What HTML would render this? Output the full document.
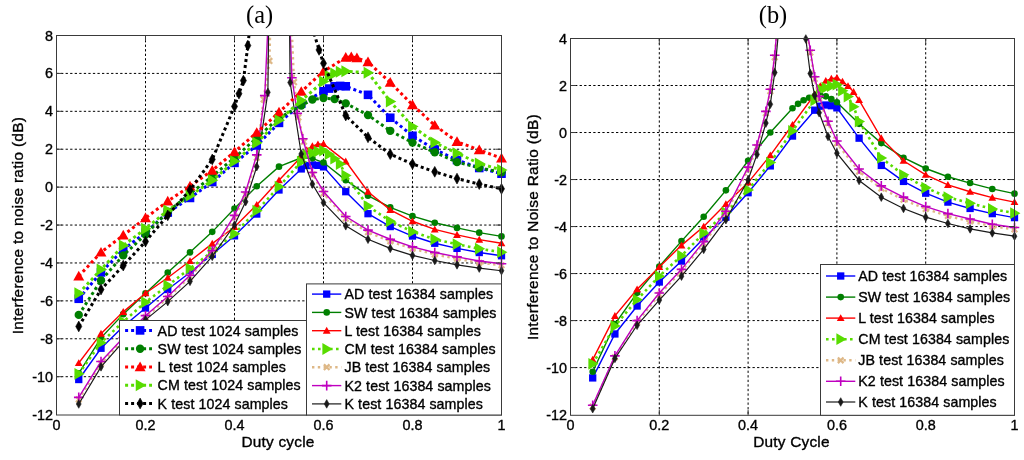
<!DOCTYPE html>
<html><head><meta charset="utf-8"><title>Figure</title>
<style>html,body{margin:0;padding:0;background:#fff;}body{width:1024px;height:460px;overflow:hidden;font-family:"Liberation Sans",sans-serif;}svg{display:block;filter:blur(0.25px);}</style>
</head><body>
<svg width="1024" height="460" viewBox="0 0 1024 460" font-family="'Liberation Sans', sans-serif" fill="#000">
<style>text{stroke:#000;stroke-width:0.35px;}</style>
<defs><clipPath id="clip0"><rect x="56.5" y="35.5" width="445" height="379.1"/></clipPath><clipPath id="clip1"><rect x="570.5" y="38.5" width="444" height="376.1"/></clipPath></defs>
<rect width="1024" height="460" fill="#fff"/>
<g id="pa">
<path d="M145.5 35.5V415M234.5 35.5V415M323.5 35.5V415M412.5 35.5V415M56.5 376.69H501.5M56.5 338.78H501.5M56.5 300.87H501.5M56.5 262.96H501.5M56.5 225.05H501.5M56.5 187.14H501.5M56.5 149.23H501.5M56.5 111.32H501.5M56.5 73.41H501.5" stroke="#000" stroke-width="1" stroke-dasharray="2.3 2.25" fill="none"/>
<path d="M78.75 379.53 L101 348.26 L123.25 326.46 L145.5 308.07 L167.75 289.5 L190 272.44 L212.25 254.43 L234.5 235.85 L256.75 214.06 L279 189.98 L301.25 168.94 L306.81 165.53 L312.38 164.96 L317.94 165.34 L323.5 166.86 L345.75 191.69 L368 213.68 L390.25 226.57 L412.5 236.04 L434.75 243.25 L457 248.36 L479.25 252.53 L501.5 255.76" fill="none" stroke="#0000ff" stroke-width="1.4" clip-path="url(#clip0)"/>
<rect x="75.1" y="375.88" width="7.3" height="7.3" fill="#0000ff"/>
<rect x="97.35" y="344.61" width="7.3" height="7.3" fill="#0000ff"/>
<rect x="119.6" y="322.81" width="7.3" height="7.3" fill="#0000ff"/>
<rect x="141.85" y="304.42" width="7.3" height="7.3" fill="#0000ff"/>
<rect x="164.1" y="285.85" width="7.3" height="7.3" fill="#0000ff"/>
<rect x="186.35" y="268.79" width="7.3" height="7.3" fill="#0000ff"/>
<rect x="208.6" y="250.78" width="7.3" height="7.3" fill="#0000ff"/>
<rect x="230.85" y="232.2" width="7.3" height="7.3" fill="#0000ff"/>
<rect x="253.1" y="210.41" width="7.3" height="7.3" fill="#0000ff"/>
<rect x="275.35" y="186.33" width="7.3" height="7.3" fill="#0000ff"/>
<rect x="297.6" y="165.29" width="7.3" height="7.3" fill="#0000ff"/>
<rect x="303.16" y="161.88" width="7.3" height="7.3" fill="#0000ff"/>
<rect x="308.73" y="161.31" width="7.3" height="7.3" fill="#0000ff"/>
<rect x="314.29" y="161.69" width="7.3" height="7.3" fill="#0000ff"/>
<rect x="319.85" y="163.21" width="7.3" height="7.3" fill="#0000ff"/>
<rect x="342.1" y="188.04" width="7.3" height="7.3" fill="#0000ff"/>
<rect x="364.35" y="210.03" width="7.3" height="7.3" fill="#0000ff"/>
<rect x="386.6" y="222.92" width="7.3" height="7.3" fill="#0000ff"/>
<rect x="408.85" y="232.39" width="7.3" height="7.3" fill="#0000ff"/>
<rect x="431.1" y="239.6" width="7.3" height="7.3" fill="#0000ff"/>
<rect x="453.35" y="244.71" width="7.3" height="7.3" fill="#0000ff"/>
<rect x="475.6" y="248.88" width="7.3" height="7.3" fill="#0000ff"/>
<rect x="497.85" y="252.11" width="7.3" height="7.3" fill="#0000ff"/>
<path d="M78.75 373.28 L101 337.83 L123.25 314.14 L145.5 293.29 L167.75 272.44 L190 252.35 L212.25 231.87 L234.5 208.56 L256.75 186.19 L279 166.67 L301.25 157.76 L312.38 158.33 L323.5 162.5 L345.75 180.13 L368 195.67 L390.25 207.42 L412.5 216.14 L434.75 222.78 L457 227.89 L479.25 232.63 L501.5 236.42" fill="none" stroke="#007f00" stroke-width="1.4" clip-path="url(#clip0)"/>
<circle cx="78.75" cy="373.28" r="3.3" fill="#007f00"/>
<circle cx="101" cy="337.83" r="3.3" fill="#007f00"/>
<circle cx="123.25" cy="314.14" r="3.3" fill="#007f00"/>
<circle cx="145.5" cy="293.29" r="3.3" fill="#007f00"/>
<circle cx="167.75" cy="272.44" r="3.3" fill="#007f00"/>
<circle cx="190" cy="252.35" r="3.3" fill="#007f00"/>
<circle cx="212.25" cy="231.87" r="3.3" fill="#007f00"/>
<circle cx="234.5" cy="208.56" r="3.3" fill="#007f00"/>
<circle cx="256.75" cy="186.19" r="3.3" fill="#007f00"/>
<circle cx="279" cy="166.67" r="3.3" fill="#007f00"/>
<circle cx="301.25" cy="157.76" r="3.3" fill="#007f00"/>
<circle cx="312.38" cy="158.33" r="3.3" fill="#007f00"/>
<circle cx="323.5" cy="162.5" r="3.3" fill="#007f00"/>
<circle cx="345.75" cy="180.13" r="3.3" fill="#007f00"/>
<circle cx="368" cy="195.67" r="3.3" fill="#007f00"/>
<circle cx="390.25" cy="207.42" r="3.3" fill="#007f00"/>
<circle cx="412.5" cy="216.14" r="3.3" fill="#007f00"/>
<circle cx="434.75" cy="222.78" r="3.3" fill="#007f00"/>
<circle cx="457" cy="227.89" r="3.3" fill="#007f00"/>
<circle cx="479.25" cy="232.63" r="3.3" fill="#007f00"/>
<circle cx="501.5" cy="236.42" r="3.3" fill="#007f00"/>
<path d="M78.75 363.04 L101 333.66 L123.25 311.86 L145.5 293.29 L167.75 277.74 L190 261.06 L212.25 243.63 L234.5 226.95 L256.75 204.77 L279 180.32 L301.25 156.81 L306.81 150.18 L312.38 146.01 L317.94 144.3 L323.5 143.92 L345.75 161.36 L368 191.69 L390.25 209.89 L412.5 221.26 L434.75 229.41 L457 234.91 L479.25 239.65 L501.5 243.25" fill="none" stroke="#ff0000" stroke-width="1.4" clip-path="url(#clip0)"/>
<polygon points="78.75,359.2 74.85,366.06 82.65,366.06" fill="#ff0000"/>
<polygon points="101,329.82 97.1,336.68 104.9,336.68" fill="#ff0000"/>
<polygon points="123.25,308.02 119.35,314.88 127.15,314.88" fill="#ff0000"/>
<polygon points="145.5,289.44 141.6,296.31 149.4,296.31" fill="#ff0000"/>
<polygon points="167.75,273.9 163.85,280.77 171.65,280.77" fill="#ff0000"/>
<polygon points="190,257.22 186.1,264.08 193.9,264.08" fill="#ff0000"/>
<polygon points="212.25,239.78 208.35,246.65 216.15,246.65" fill="#ff0000"/>
<polygon points="234.5,223.1 230.6,229.97 238.4,229.97" fill="#ff0000"/>
<polygon points="256.75,200.92 252.85,207.79 260.65,207.79" fill="#ff0000"/>
<polygon points="279,176.47 275.1,183.34 282.9,183.34" fill="#ff0000"/>
<polygon points="301.25,152.97 297.35,159.83 305.15,159.83" fill="#ff0000"/>
<polygon points="306.81,146.33 302.91,153.2 310.71,153.2" fill="#ff0000"/>
<polygon points="312.38,142.16 308.48,149.03 316.27,149.03" fill="#ff0000"/>
<polygon points="317.94,140.46 314.04,147.32 321.84,147.32" fill="#ff0000"/>
<polygon points="323.5,140.08 319.6,146.94 327.4,146.94" fill="#ff0000"/>
<polygon points="345.75,157.52 341.85,164.38 349.65,164.38" fill="#ff0000"/>
<polygon points="368,187.85 364.1,194.71 371.9,194.71" fill="#ff0000"/>
<polygon points="390.25,206.04 386.35,212.91 394.15,212.91" fill="#ff0000"/>
<polygon points="412.5,217.42 408.6,224.28 416.4,224.28" fill="#ff0000"/>
<polygon points="434.75,225.57 430.85,232.43 438.65,232.43" fill="#ff0000"/>
<polygon points="457,231.06 453.1,237.93 460.9,237.93" fill="#ff0000"/>
<polygon points="479.25,235.8 475.35,242.67 483.15,242.67" fill="#ff0000"/>
<polygon points="501.5,239.4 497.6,246.27 505.4,246.27" fill="#ff0000"/>
<path d="M78.75 373.85 L101 342.76 L123.25 321.72 L145.5 302.2 L167.75 285.52 L190 268.46 L212.25 251.59 L234.5 233.77 L256.75 210.64 L279 186.76 L301.25 161.74 L306.81 154.92 L312.38 153.02 L317.94 151.5 L323.5 150.56 L329.06 154.16 L334.62 158.71 L340.19 164.01 L345.75 175.39 L368 206.09 L390.25 221.26 L412.5 231.68 L434.75 239.27 L457 244.19 L479.25 248.74 L501.5 252.16" fill="none" stroke="#58dc00" stroke-width="2.6" stroke-dasharray="2.6 3.4" clip-path="url(#clip0)"/>
<polygon points="84.7,373.85 74.44,367.95 74.44,379.75" fill="#58dc00"/>
<polygon points="106.95,342.76 96.69,336.86 96.69,348.66" fill="#58dc00"/>
<polygon points="129.2,321.72 118.94,315.82 118.94,327.62" fill="#58dc00"/>
<polygon points="151.45,302.2 141.19,296.3 141.19,308.1" fill="#58dc00"/>
<polygon points="173.7,285.52 163.44,279.62 163.44,291.42" fill="#58dc00"/>
<polygon points="195.95,268.46 185.69,262.56 185.69,274.36" fill="#58dc00"/>
<polygon points="218.2,251.59 207.94,245.69 207.94,257.49" fill="#58dc00"/>
<polygon points="240.45,233.77 230.19,227.87 230.19,239.67" fill="#58dc00"/>
<polygon points="262.7,210.64 252.44,204.74 252.44,216.54" fill="#58dc00"/>
<polygon points="284.95,186.76 274.69,180.86 274.69,192.66" fill="#58dc00"/>
<polygon points="307.2,161.74 296.94,155.84 296.94,167.64" fill="#58dc00"/>
<polygon points="312.77,154.92 302.5,149.02 302.5,160.82" fill="#58dc00"/>
<polygon points="318.33,153.02 308.06,147.12 308.06,158.92" fill="#58dc00"/>
<polygon points="323.89,151.5 313.63,145.6 313.63,157.4" fill="#58dc00"/>
<polygon points="329.45,150.56 319.19,144.66 319.19,156.46" fill="#58dc00"/>
<polygon points="335.02,154.16 324.75,148.26 324.75,160.06" fill="#58dc00"/>
<polygon points="340.58,158.71 330.31,152.81 330.31,164.61" fill="#58dc00"/>
<polygon points="346.14,164.01 335.88,158.11 335.88,169.91" fill="#58dc00"/>
<polygon points="351.7,175.39 341.44,169.49 341.44,181.29" fill="#58dc00"/>
<polygon points="373.95,206.09 363.69,200.19 363.69,212" fill="#58dc00"/>
<polygon points="396.2,221.26 385.94,215.36 385.94,227.16" fill="#58dc00"/>
<polygon points="418.45,231.68 408.19,225.78 408.19,237.58" fill="#58dc00"/>
<polygon points="440.7,239.27 430.44,233.37 430.44,245.17" fill="#58dc00"/>
<polygon points="462.95,244.19 452.69,238.29 452.69,250.09" fill="#58dc00"/>
<polygon points="485.2,248.74 474.94,242.84 474.94,254.64" fill="#58dc00"/>
<polygon points="507.45,252.16 497.19,246.26 497.19,258.06" fill="#58dc00"/>
<path d="M78.75 399.44 L101 363.42 L123.25 339.73 L145.5 317.17 L167.75 298.03 L190 276.8 L212.25 252.35 L234.5 217.47 L245.62 194.72 L256.75 157.76 L263.6 99.38 L269.43 60.9 L270.54 16.55" fill="none" stroke="#deb887" stroke-width="2.4" stroke-dasharray="2.4 3.4" clip-path="url(#clip0)"/>
<path d="M291.24 16.55 L294 82.13 L298.4 117.39 L303.92 141.65 L312.82 174.44 L323.5 193.4 L345.75 218.61 L368 232.25 L390.25 241.35 L412.5 248.74 L434.75 254.43 L457 258.79 L479.25 262.77 L501.5 265.23" fill="none" stroke="#deb887" stroke-width="2.4" stroke-dasharray="2.4 3.4" clip-path="url(#clip0)"/>
<path d="M75.95 396.64L81.55 402.24M75.95 402.24L81.55 396.64" stroke="#deb887" stroke-width="2.2" fill="none"/>
<path d="M98.2 360.62L103.8 366.22M98.2 366.22L103.8 360.62" stroke="#deb887" stroke-width="2.2" fill="none"/>
<path d="M120.45 336.93L126.05 342.53M120.45 342.53L126.05 336.93" stroke="#deb887" stroke-width="2.2" fill="none"/>
<path d="M142.7 314.37L148.3 319.97M142.7 319.97L148.3 314.37" stroke="#deb887" stroke-width="2.2" fill="none"/>
<path d="M164.95 295.23L170.55 300.83M164.95 300.83L170.55 295.23" stroke="#deb887" stroke-width="2.2" fill="none"/>
<path d="M187.2 274L192.8 279.6M187.2 279.6L192.8 274" stroke="#deb887" stroke-width="2.2" fill="none"/>
<path d="M209.45 249.55L215.05 255.15M209.45 255.15L215.05 249.55" stroke="#deb887" stroke-width="2.2" fill="none"/>
<path d="M231.7 214.67L237.3 220.27M231.7 220.27L237.3 214.67" stroke="#deb887" stroke-width="2.2" fill="none"/>
<path d="M242.82 191.92L248.43 197.52M242.82 197.52L248.43 191.92" stroke="#deb887" stroke-width="2.2" fill="none"/>
<path d="M253.95 154.96L259.55 160.56M253.95 160.56L259.55 154.96" stroke="#deb887" stroke-width="2.2" fill="none"/>
<path d="M260.8 96.58L266.4 102.18M260.8 102.18L266.4 96.58" stroke="#deb887" stroke-width="2.2" fill="none"/>
<path d="M266.63 58.1L272.23 63.7M266.63 63.7L272.23 58.1" stroke="#deb887" stroke-width="2.2" fill="none"/>
<path d="M291.2 79.33L296.8 84.93M291.2 84.93L296.8 79.33" stroke="#deb887" stroke-width="2.2" fill="none"/>
<path d="M295.6 114.59L301.2 120.19M295.6 120.19L301.2 114.59" stroke="#deb887" stroke-width="2.2" fill="none"/>
<path d="M301.12 138.85L306.72 144.45M301.12 144.45L306.72 138.85" stroke="#deb887" stroke-width="2.2" fill="none"/>
<path d="M310.02 171.64L315.62 177.24M310.02 177.24L315.62 171.64" stroke="#deb887" stroke-width="2.2" fill="none"/>
<path d="M320.7 190.6L326.3 196.2M320.7 196.2L326.3 190.6" stroke="#deb887" stroke-width="2.2" fill="none"/>
<path d="M342.95 215.81L348.55 221.41M342.95 221.41L348.55 215.81" stroke="#deb887" stroke-width="2.2" fill="none"/>
<path d="M365.2 229.45L370.8 235.05M365.2 235.05L370.8 229.45" stroke="#deb887" stroke-width="2.2" fill="none"/>
<path d="M387.45 238.55L393.05 244.15M387.45 244.15L393.05 238.55" stroke="#deb887" stroke-width="2.2" fill="none"/>
<path d="M409.7 245.94L415.3 251.54M409.7 251.54L415.3 245.94" stroke="#deb887" stroke-width="2.2" fill="none"/>
<path d="M431.95 251.63L437.55 257.23M431.95 257.23L437.55 251.63" stroke="#deb887" stroke-width="2.2" fill="none"/>
<path d="M454.2 255.99L459.8 261.59M454.2 261.59L459.8 255.99" stroke="#deb887" stroke-width="2.2" fill="none"/>
<path d="M476.45 259.97L482.05 265.57M476.45 265.57L482.05 259.97" stroke="#deb887" stroke-width="2.2" fill="none"/>
<path d="M498.7 262.43L504.3 268.03M498.7 268.03L504.3 262.43" stroke="#deb887" stroke-width="2.2" fill="none"/>
<path d="M78.75 397.35 L101 361.53 L123.25 337.83 L145.5 315.65 L167.75 296.51 L190 275.28 L212.25 250.64 L234.5 215.38 L245.62 192.07 L256.75 154.92 L264.76 95.59 L268.32 16.55" fill="none" stroke="#bf00bf" stroke-width="1.4" clip-path="url(#clip0)"/>
<path d="M289.68 16.55 L291.9 77.77 L297.25 113.41 L302.81 138.8 L312.38 172.54 L323.5 191.5 L345.75 216.52 L368 230.17 L390.25 239.27 L412.5 246.85 L434.75 252.53 L457 256.89 L479.25 261.06 L501.5 263.72" fill="none" stroke="#bf00bf" stroke-width="1.4" clip-path="url(#clip0)"/>
<path d="M73.95 397.35H83.55M78.75 392.55V402.15" stroke="#bf00bf" stroke-width="1.6" fill="none"/>
<path d="M96.2 361.53H105.8M101 356.73V366.33" stroke="#bf00bf" stroke-width="1.6" fill="none"/>
<path d="M118.45 337.83H128.05M123.25 333.03V342.63" stroke="#bf00bf" stroke-width="1.6" fill="none"/>
<path d="M140.7 315.65H150.3M145.5 310.85V320.45" stroke="#bf00bf" stroke-width="1.6" fill="none"/>
<path d="M162.95 296.51H172.55M167.75 291.71V301.31" stroke="#bf00bf" stroke-width="1.6" fill="none"/>
<path d="M185.2 275.28H194.8M190 270.48V280.08" stroke="#bf00bf" stroke-width="1.6" fill="none"/>
<path d="M207.45 250.64H217.05M212.25 245.84V255.44" stroke="#bf00bf" stroke-width="1.6" fill="none"/>
<path d="M229.7 215.38H239.3M234.5 210.58V220.18" stroke="#bf00bf" stroke-width="1.6" fill="none"/>
<path d="M240.82 192.07H250.43M245.62 187.27V196.87" stroke="#bf00bf" stroke-width="1.6" fill="none"/>
<path d="M251.95 154.92H261.55M256.75 150.12V159.72" stroke="#bf00bf" stroke-width="1.6" fill="none"/>
<path d="M259.96 95.59H269.56M264.76 90.79V100.39" stroke="#bf00bf" stroke-width="1.6" fill="none"/>
<path d="M287.1 77.77H296.7M291.9 72.97V82.57" stroke="#bf00bf" stroke-width="1.6" fill="none"/>
<path d="M292.44 113.41H302.05M297.25 108.61V118.21" stroke="#bf00bf" stroke-width="1.6" fill="none"/>
<path d="M298.01 138.8H307.61M302.81 134V143.6" stroke="#bf00bf" stroke-width="1.6" fill="none"/>
<path d="M307.57 172.54H317.18M312.38 167.74V177.34" stroke="#bf00bf" stroke-width="1.6" fill="none"/>
<path d="M318.7 191.5H328.3M323.5 186.7V196.3" stroke="#bf00bf" stroke-width="1.6" fill="none"/>
<path d="M340.95 216.52H350.55M345.75 211.72V221.32" stroke="#bf00bf" stroke-width="1.6" fill="none"/>
<path d="M363.2 230.17H372.8M368 225.37V234.97" stroke="#bf00bf" stroke-width="1.6" fill="none"/>
<path d="M385.45 239.27H395.05M390.25 234.47V244.07" stroke="#bf00bf" stroke-width="1.6" fill="none"/>
<path d="M407.7 246.85H417.3M412.5 242.05V251.65" stroke="#bf00bf" stroke-width="1.6" fill="none"/>
<path d="M429.95 252.53H439.55M434.75 247.73V257.33" stroke="#bf00bf" stroke-width="1.6" fill="none"/>
<path d="M452.2 256.89H461.8M457 252.09V261.69" stroke="#bf00bf" stroke-width="1.6" fill="none"/>
<path d="M474.45 261.06H484.05M479.25 256.26V265.86" stroke="#bf00bf" stroke-width="1.6" fill="none"/>
<path d="M496.7 263.72H506.3M501.5 258.92V268.52" stroke="#bf00bf" stroke-width="1.6" fill="none"/>
<path d="M78.75 403.99 L101 366.83 L123.25 341.62 L145.5 319.83 L167.75 301.63 L190 281.35 L212.25 256.33 L234.5 225.05 L245.62 201.74 L256.75 166.67 L267.88 92.37 L268.76 16.55" fill="none" stroke="#1a1a1a" stroke-width="1.2" clip-path="url(#clip0)"/>
<path d="M289.46 16.55 L290.12 82.51 L301.25 153.97 L312.38 184.11 L323.5 202.68 L345.75 225.81 L368 239.27 L390.25 248.36 L412.5 255.38 L434.75 260.5 L457 264.86 L479.25 268.08 L501.5 270.73" fill="none" stroke="#1a1a1a" stroke-width="1.2" clip-path="url(#clip0)"/>
<polygon points="78.75,399.69 81.16,403.99 78.75,408.29 76.34,403.99" fill="#1a1a1a" stroke="#1a1a1a" stroke-width="0.6" stroke-linejoin="round"/>
<polygon points="101,362.53 103.41,366.83 101,371.13 98.59,366.83" fill="#1a1a1a" stroke="#1a1a1a" stroke-width="0.6" stroke-linejoin="round"/>
<polygon points="123.25,337.32 125.66,341.62 123.25,345.92 120.84,341.62" fill="#1a1a1a" stroke="#1a1a1a" stroke-width="0.6" stroke-linejoin="round"/>
<polygon points="145.5,315.53 147.91,319.83 145.5,324.13 143.09,319.83" fill="#1a1a1a" stroke="#1a1a1a" stroke-width="0.6" stroke-linejoin="round"/>
<polygon points="167.75,297.33 170.16,301.63 167.75,305.93 165.34,301.63" fill="#1a1a1a" stroke="#1a1a1a" stroke-width="0.6" stroke-linejoin="round"/>
<polygon points="190,277.05 192.41,281.35 190,285.65 187.59,281.35" fill="#1a1a1a" stroke="#1a1a1a" stroke-width="0.6" stroke-linejoin="round"/>
<polygon points="212.25,252.03 214.66,256.33 212.25,260.63 209.84,256.33" fill="#1a1a1a" stroke="#1a1a1a" stroke-width="0.6" stroke-linejoin="round"/>
<polygon points="234.5,220.75 236.91,225.05 234.5,229.35 232.09,225.05" fill="#1a1a1a" stroke="#1a1a1a" stroke-width="0.6" stroke-linejoin="round"/>
<polygon points="245.62,197.44 248.03,201.74 245.62,206.04 243.22,201.74" fill="#1a1a1a" stroke="#1a1a1a" stroke-width="0.6" stroke-linejoin="round"/>
<polygon points="256.75,162.37 259.16,166.67 256.75,170.97 254.34,166.67" fill="#1a1a1a" stroke="#1a1a1a" stroke-width="0.6" stroke-linejoin="round"/>
<polygon points="267.88,88.07 270.28,92.37 267.88,96.67 265.47,92.37" fill="#1a1a1a" stroke="#1a1a1a" stroke-width="0.6" stroke-linejoin="round"/>
<polygon points="290.12,78.21 292.53,82.51 290.12,86.81 287.72,82.51" fill="#1a1a1a" stroke="#1a1a1a" stroke-width="0.6" stroke-linejoin="round"/>
<polygon points="301.25,149.67 303.66,153.97 301.25,158.27 298.84,153.97" fill="#1a1a1a" stroke="#1a1a1a" stroke-width="0.6" stroke-linejoin="round"/>
<polygon points="312.38,179.81 314.78,184.11 312.38,188.41 309.97,184.11" fill="#1a1a1a" stroke="#1a1a1a" stroke-width="0.6" stroke-linejoin="round"/>
<polygon points="323.5,198.38 325.91,202.68 323.5,206.98 321.09,202.68" fill="#1a1a1a" stroke="#1a1a1a" stroke-width="0.6" stroke-linejoin="round"/>
<polygon points="345.75,221.51 348.16,225.81 345.75,230.11 343.34,225.81" fill="#1a1a1a" stroke="#1a1a1a" stroke-width="0.6" stroke-linejoin="round"/>
<polygon points="368,234.97 370.41,239.27 368,243.57 365.59,239.27" fill="#1a1a1a" stroke="#1a1a1a" stroke-width="0.6" stroke-linejoin="round"/>
<polygon points="390.25,244.06 392.66,248.36 390.25,252.66 387.84,248.36" fill="#1a1a1a" stroke="#1a1a1a" stroke-width="0.6" stroke-linejoin="round"/>
<polygon points="412.5,251.08 414.91,255.38 412.5,259.68 410.09,255.38" fill="#1a1a1a" stroke="#1a1a1a" stroke-width="0.6" stroke-linejoin="round"/>
<polygon points="434.75,256.2 437.16,260.5 434.75,264.8 432.34,260.5" fill="#1a1a1a" stroke="#1a1a1a" stroke-width="0.6" stroke-linejoin="round"/>
<polygon points="457,260.56 459.41,264.86 457,269.16 454.59,264.86" fill="#1a1a1a" stroke="#1a1a1a" stroke-width="0.6" stroke-linejoin="round"/>
<polygon points="479.25,263.78 481.66,268.08 479.25,272.38 476.84,268.08" fill="#1a1a1a" stroke="#1a1a1a" stroke-width="0.6" stroke-linejoin="round"/>
<polygon points="501.5,266.43 503.91,270.73 501.5,275.03 499.09,270.73" fill="#1a1a1a" stroke="#1a1a1a" stroke-width="0.6" stroke-linejoin="round"/>
<path d="M78.75 298.78 L101 272.44 L123.25 249.5 L145.5 232.63 L167.75 212.54 L190 197.94 L212.25 182.02 L234.5 162.88 L256.75 145.44 L279 122.88 L301.25 103.74 L323.5 91.23 L329.06 88.57 L334.62 86.3 L340.19 85.92 L345.75 86.3 L368 94.83 L390.25 117.76 L412.5 135.77 L434.75 149.42 L457 160.03 L479.25 168 L501.5 173.68" fill="none" stroke="#0000ff" stroke-width="3" stroke-dasharray="3 3" clip-path="url(#clip0)"/>
<rect x="74.45" y="294.48" width="8.6" height="8.6" fill="#0000ff"/>
<rect x="96.7" y="268.14" width="8.6" height="8.6" fill="#0000ff"/>
<rect x="118.95" y="245.2" width="8.6" height="8.6" fill="#0000ff"/>
<rect x="141.2" y="228.33" width="8.6" height="8.6" fill="#0000ff"/>
<rect x="163.45" y="208.24" width="8.6" height="8.6" fill="#0000ff"/>
<rect x="185.7" y="193.64" width="8.6" height="8.6" fill="#0000ff"/>
<rect x="207.95" y="177.72" width="8.6" height="8.6" fill="#0000ff"/>
<rect x="230.2" y="158.58" width="8.6" height="8.6" fill="#0000ff"/>
<rect x="252.45" y="141.14" width="8.6" height="8.6" fill="#0000ff"/>
<rect x="274.7" y="118.58" width="8.6" height="8.6" fill="#0000ff"/>
<rect x="296.95" y="99.44" width="8.6" height="8.6" fill="#0000ff"/>
<rect x="319.2" y="86.93" width="8.6" height="8.6" fill="#0000ff"/>
<rect x="324.76" y="84.27" width="8.6" height="8.6" fill="#0000ff"/>
<rect x="330.32" y="82" width="8.6" height="8.6" fill="#0000ff"/>
<rect x="335.89" y="81.62" width="8.6" height="8.6" fill="#0000ff"/>
<rect x="341.45" y="82" width="8.6" height="8.6" fill="#0000ff"/>
<rect x="363.7" y="90.53" width="8.6" height="8.6" fill="#0000ff"/>
<rect x="385.95" y="113.46" width="8.6" height="8.6" fill="#0000ff"/>
<rect x="408.2" y="131.47" width="8.6" height="8.6" fill="#0000ff"/>
<rect x="430.45" y="145.12" width="8.6" height="8.6" fill="#0000ff"/>
<rect x="452.7" y="155.73" width="8.6" height="8.6" fill="#0000ff"/>
<rect x="474.95" y="163.7" width="8.6" height="8.6" fill="#0000ff"/>
<rect x="497.2" y="169.38" width="8.6" height="8.6" fill="#0000ff"/>
<path d="M78.75 314.9 L101 280.4 L123.25 255.38 L145.5 234.53 L167.75 211.78 L190 193.77 L212.25 176.34 L234.5 157.76 L256.75 137.86 L279 117.95 L301.25 105.63 L312.38 99.57 L323.5 98.05 L334.62 99 L345.75 103.36 L368 115.11 L390.25 130.84 L412.5 142.6 L434.75 152.26 L457 162.12 L479.25 167.81 L501.5 172.36" fill="none" stroke="#007f00" stroke-width="3" stroke-dasharray="3 3" clip-path="url(#clip0)"/>
<circle cx="78.75" cy="314.9" r="4.2" fill="#007f00"/>
<circle cx="101" cy="280.4" r="4.2" fill="#007f00"/>
<circle cx="123.25" cy="255.38" r="4.2" fill="#007f00"/>
<circle cx="145.5" cy="234.53" r="4.2" fill="#007f00"/>
<circle cx="167.75" cy="211.78" r="4.2" fill="#007f00"/>
<circle cx="190" cy="193.77" r="4.2" fill="#007f00"/>
<circle cx="212.25" cy="176.34" r="4.2" fill="#007f00"/>
<circle cx="234.5" cy="157.76" r="4.2" fill="#007f00"/>
<circle cx="256.75" cy="137.86" r="4.2" fill="#007f00"/>
<circle cx="279" cy="117.95" r="4.2" fill="#007f00"/>
<circle cx="301.25" cy="105.63" r="4.2" fill="#007f00"/>
<circle cx="312.38" cy="99.57" r="4.2" fill="#007f00"/>
<circle cx="323.5" cy="98.05" r="4.2" fill="#007f00"/>
<circle cx="334.62" cy="99" r="4.2" fill="#007f00"/>
<circle cx="345.75" cy="103.36" r="4.2" fill="#007f00"/>
<circle cx="368" cy="115.11" r="4.2" fill="#007f00"/>
<circle cx="390.25" cy="130.84" r="4.2" fill="#007f00"/>
<circle cx="412.5" cy="142.6" r="4.2" fill="#007f00"/>
<circle cx="434.75" cy="152.26" r="4.2" fill="#007f00"/>
<circle cx="457" cy="162.12" r="4.2" fill="#007f00"/>
<circle cx="479.25" cy="167.81" r="4.2" fill="#007f00"/>
<circle cx="501.5" cy="172.36" r="4.2" fill="#007f00"/>
<path d="M78.75 276.23 L101 252.35 L123.25 235.29 L145.5 218.04 L167.75 201.17 L190 186.19 L212.25 170.46 L234.5 151.88 L256.75 132.55 L279 112.27 L301.25 91.61 L323.5 71.51 L345.75 57.49 L351.31 56.92 L356.88 57.87 L368 62.04 L390.25 82.51 L412.5 104.88 L434.75 125.35 L457 141.65 L479.25 149.99 L501.5 158.14" fill="none" stroke="#ff0000" stroke-width="3" stroke-dasharray="3 3" clip-path="url(#clip0)"/>
<polygon points="78.75,270.81 73.25,280.49 84.25,280.49" fill="#ff0000"/>
<polygon points="101,246.92 95.5,256.6 106.5,256.6" fill="#ff0000"/>
<polygon points="123.25,229.86 117.75,239.54 128.75,239.54" fill="#ff0000"/>
<polygon points="145.5,212.62 140,222.3 151,222.3" fill="#ff0000"/>
<polygon points="167.75,195.75 162.25,205.43 173.25,205.43" fill="#ff0000"/>
<polygon points="190,180.77 184.5,190.45 195.5,190.45" fill="#ff0000"/>
<polygon points="212.25,165.04 206.75,174.72 217.75,174.72" fill="#ff0000"/>
<polygon points="234.5,146.46 229,156.14 240,156.14" fill="#ff0000"/>
<polygon points="256.75,127.13 251.25,136.81 262.25,136.81" fill="#ff0000"/>
<polygon points="279,106.85 273.5,116.53 284.5,116.53" fill="#ff0000"/>
<polygon points="301.25,86.19 295.75,95.87 306.75,95.87" fill="#ff0000"/>
<polygon points="323.5,66.09 318,75.77 329,75.77" fill="#ff0000"/>
<polygon points="345.75,52.07 340.25,61.75 351.25,61.75" fill="#ff0000"/>
<polygon points="351.31,51.5 345.81,61.18 356.81,61.18" fill="#ff0000"/>
<polygon points="356.88,52.45 351.38,62.13 362.38,62.13" fill="#ff0000"/>
<polygon points="368,56.62 362.5,66.3 373.5,66.3" fill="#ff0000"/>
<polygon points="390.25,77.09 384.75,86.77 395.75,86.77" fill="#ff0000"/>
<polygon points="412.5,99.45 407,109.13 418,109.13" fill="#ff0000"/>
<polygon points="434.75,119.93 429.25,129.61 440.25,129.61" fill="#ff0000"/>
<polygon points="457,136.23 451.5,145.91 462.5,145.91" fill="#ff0000"/>
<polygon points="479.25,144.57 473.75,154.25 484.75,154.25" fill="#ff0000"/>
<polygon points="501.5,152.72 496,162.4 507,162.4" fill="#ff0000"/>
<path d="M78.75 293.29 L101 269.59 L123.25 245.52 L145.5 228.84 L167.75 210.45 L190 195.86 L212.25 180.32 L234.5 161.36 L256.75 142.79 L279 120.23 L301.25 100.52 L323.5 81.56 L329.06 75.68 L334.62 73.41 L340.19 71.7 L345.75 71.32 L368 72.65 L390.25 101.46 L412.5 126.48 L434.75 142.6 L457 153.21 L479.25 163.45 L501.5 169.89" fill="none" stroke="#58dc00" stroke-width="3" stroke-dasharray="3 3" clip-path="url(#clip0)"/>
<polygon points="84.81,293.29 74.37,287.29 74.37,299.29" fill="#58dc00"/>
<polygon points="107.06,269.59 96.62,263.59 96.62,275.59" fill="#58dc00"/>
<polygon points="129.31,245.52 118.87,239.52 118.87,251.52" fill="#58dc00"/>
<polygon points="151.56,228.84 141.12,222.84 141.12,234.84" fill="#58dc00"/>
<polygon points="173.81,210.45 163.37,204.45 163.37,216.45" fill="#58dc00"/>
<polygon points="196.06,195.86 185.62,189.86 185.62,201.86" fill="#58dc00"/>
<polygon points="218.31,180.32 207.87,174.32 207.87,186.32" fill="#58dc00"/>
<polygon points="240.56,161.36 230.12,155.36 230.12,167.36" fill="#58dc00"/>
<polygon points="262.81,142.79 252.37,136.79 252.37,148.79" fill="#58dc00"/>
<polygon points="285.06,120.23 274.62,114.23 274.62,126.23" fill="#58dc00"/>
<polygon points="307.31,100.52 296.87,94.52 296.87,106.52" fill="#58dc00"/>
<polygon points="329.56,81.56 319.12,75.56 319.12,87.56" fill="#58dc00"/>
<polygon points="335.12,75.68 324.68,69.68 324.68,81.68" fill="#58dc00"/>
<polygon points="340.68,73.41 330.24,67.41 330.24,79.41" fill="#58dc00"/>
<polygon points="346.24,71.7 335.8,65.7 335.8,77.7" fill="#58dc00"/>
<polygon points="351.81,71.32 341.37,65.32 341.37,77.32" fill="#58dc00"/>
<polygon points="374.06,72.65 363.62,66.65 363.62,78.65" fill="#58dc00"/>
<polygon points="396.31,101.46 385.87,95.46 385.87,107.46" fill="#58dc00"/>
<polygon points="418.56,126.48 408.12,120.48 408.12,132.48" fill="#58dc00"/>
<polygon points="440.81,142.6 430.37,136.6 430.37,148.6" fill="#58dc00"/>
<polygon points="463.06,153.21 452.62,147.21 452.62,159.21" fill="#58dc00"/>
<polygon points="485.31,163.45 474.87,157.45 474.87,169.45" fill="#58dc00"/>
<polygon points="507.56,169.89 497.12,163.89 497.12,175.89" fill="#58dc00"/>
<path d="M78.75 326.46 L101 289.5 L123.25 265.61 L145.5 241.54 L167.75 215.38 L190 189.98 L212.25 159.47 L234.5 106.39 L238.95 93.69 L243.4 80.61 L247.85 45.55 L252.3 5.17" fill="none" stroke="#000" stroke-width="3" stroke-dasharray="3 3" clip-path="url(#clip0)"/>
<path d="M312.38 27.92 L319.05 49.91 L323.5 63.36 L345.75 115.49 L368 137.29 L390.25 154.16 L412.5 164.01 L434.75 171.79 L457 178.61 L479.25 184.11 L501.5 188.85" fill="none" stroke="#000" stroke-width="3" stroke-dasharray="3 3" clip-path="url(#clip0)"/>
<polygon points="78.75,321.06 81.77,326.46 78.75,331.86 75.73,326.46" fill="#000" stroke="#000" stroke-width="0.6" stroke-linejoin="round"/>
<polygon points="101,284.1 104.02,289.5 101,294.9 97.98,289.5" fill="#000" stroke="#000" stroke-width="0.6" stroke-linejoin="round"/>
<polygon points="123.25,260.21 126.27,265.61 123.25,271.01 120.23,265.61" fill="#000" stroke="#000" stroke-width="0.6" stroke-linejoin="round"/>
<polygon points="145.5,236.14 148.52,241.54 145.5,246.94 142.48,241.54" fill="#000" stroke="#000" stroke-width="0.6" stroke-linejoin="round"/>
<polygon points="167.75,209.98 170.77,215.38 167.75,220.78 164.73,215.38" fill="#000" stroke="#000" stroke-width="0.6" stroke-linejoin="round"/>
<polygon points="190,184.58 193.02,189.98 190,195.38 186.98,189.98" fill="#000" stroke="#000" stroke-width="0.6" stroke-linejoin="round"/>
<polygon points="212.25,154.07 215.27,159.47 212.25,164.87 209.23,159.47" fill="#000" stroke="#000" stroke-width="0.6" stroke-linejoin="round"/>
<polygon points="234.5,100.99 237.52,106.39 234.5,111.79 231.48,106.39" fill="#000" stroke="#000" stroke-width="0.6" stroke-linejoin="round"/>
<polygon points="238.95,88.29 241.97,93.69 238.95,99.09 235.93,93.69" fill="#000" stroke="#000" stroke-width="0.6" stroke-linejoin="round"/>
<polygon points="243.4,75.21 246.42,80.61 243.4,86.01 240.38,80.61" fill="#000" stroke="#000" stroke-width="0.6" stroke-linejoin="round"/>
<polygon points="247.85,40.15 250.87,45.55 247.85,50.95 244.83,45.55" fill="#000" stroke="#000" stroke-width="0.6" stroke-linejoin="round"/>
<polygon points="319.05,44.51 322.07,49.91 319.05,55.31 316.03,49.91" fill="#000" stroke="#000" stroke-width="0.6" stroke-linejoin="round"/>
<polygon points="323.5,57.96 326.52,63.36 323.5,68.76 320.48,63.36" fill="#000" stroke="#000" stroke-width="0.6" stroke-linejoin="round"/>
<polygon points="345.75,110.09 348.77,115.49 345.75,120.89 342.73,115.49" fill="#000" stroke="#000" stroke-width="0.6" stroke-linejoin="round"/>
<polygon points="368,131.89 371.02,137.29 368,142.69 364.98,137.29" fill="#000" stroke="#000" stroke-width="0.6" stroke-linejoin="round"/>
<polygon points="390.25,148.76 393.27,154.16 390.25,159.56 387.23,154.16" fill="#000" stroke="#000" stroke-width="0.6" stroke-linejoin="round"/>
<polygon points="412.5,158.61 415.52,164.01 412.5,169.41 409.48,164.01" fill="#000" stroke="#000" stroke-width="0.6" stroke-linejoin="round"/>
<polygon points="434.75,166.39 437.77,171.79 434.75,177.19 431.73,171.79" fill="#000" stroke="#000" stroke-width="0.6" stroke-linejoin="round"/>
<polygon points="457,173.21 460.02,178.61 457,184.01 453.98,178.61" fill="#000" stroke="#000" stroke-width="0.6" stroke-linejoin="round"/>
<polygon points="479.25,178.71 482.27,184.11 479.25,189.51 476.23,184.11" fill="#000" stroke="#000" stroke-width="0.6" stroke-linejoin="round"/>
<polygon points="501.5,183.45 504.52,188.85 501.5,194.25 498.48,188.85" fill="#000" stroke="#000" stroke-width="0.6" stroke-linejoin="round"/>
<rect x="56.5" y="35.5" width="445" height="379.5" fill="none" stroke="#3a3a3a" stroke-width="1"/>
<path d="M145.5 415v-5.5M145.5 35.5v5.5M234.5 415v-5.5M234.5 35.5v5.5M323.5 415v-5.5M323.5 35.5v5.5M412.5 415v-5.5M412.5 35.5v5.5M56.5 376.69h5.5M501.5 376.69h-5.5M56.5 338.78h5.5M501.5 338.78h-5.5M56.5 300.87h5.5M501.5 300.87h-5.5M56.5 262.96h5.5M501.5 262.96h-5.5M56.5 225.05h5.5M501.5 225.05h-5.5M56.5 187.14h5.5M501.5 187.14h-5.5M56.5 149.23h5.5M501.5 149.23h-5.5M56.5 111.32h5.5M501.5 111.32h-5.5M56.5 73.41h5.5M501.5 73.41h-5.5" stroke="#3a3a3a" stroke-width="1" fill="none"/>
<text x="56.5" y="430.3" font-size="14.4" text-anchor="middle">0</text>
<text x="145.5" y="430.3" font-size="14.4" text-anchor="middle">0.2</text>
<text x="234.5" y="430.3" font-size="14.4" text-anchor="middle">0.4</text>
<text x="323.5" y="430.3" font-size="14.4" text-anchor="middle">0.6</text>
<text x="412.5" y="430.3" font-size="14.4" text-anchor="middle">0.8</text>
<text x="501.5" y="430.3" font-size="14.4" text-anchor="middle">1</text>
<text x="53.1" y="419.6" font-size="14.4" text-anchor="end">-12</text>
<text x="53.1" y="381.69" font-size="14.4" text-anchor="end">-10</text>
<text x="53.1" y="343.78" font-size="14.4" text-anchor="end">-8</text>
<text x="53.1" y="305.87" font-size="14.4" text-anchor="end">-6</text>
<text x="53.1" y="267.96" font-size="14.4" text-anchor="end">-4</text>
<text x="53.1" y="230.05" font-size="14.4" text-anchor="end">-2</text>
<text x="53.1" y="192.14" font-size="14.4" text-anchor="end">0</text>
<text x="53.1" y="154.23" font-size="14.4" text-anchor="end">2</text>
<text x="53.1" y="116.32" font-size="14.4" text-anchor="end">4</text>
<text x="53.1" y="78.41" font-size="14.4" text-anchor="end">6</text>
<text x="53.1" y="40.5" font-size="14.4" text-anchor="end">8</text>
<text x="278" y="447.4" font-size="15.4" letter-spacing="0.22" text-anchor="middle">Duty cycle</text>
<text transform="translate(23.1 225.55) rotate(-90)" font-size="15.4" letter-spacing="0.3" text-anchor="middle">Interference to noise ratio (dB)</text>
<text x="259.6" y="22.7" font-size="24.4" text-anchor="middle" style="stroke:none" font-family="'Liberation Serif', serif">(a)</text>
<rect x="119.5" y="320.5" width="187" height="94.5" fill="#fff" stroke="#3a3a3a" stroke-width="1"/>
<path d="M125.1 330.4H152" stroke="#0000ff" stroke-width="3" stroke-dasharray="3 3" fill="none"/>
<rect x="135.8" y="326.1" width="8.6" height="8.6" fill="#0000ff"/>
<text x="157.6" y="335.51" font-size="14.2" letter-spacing="0.1">AD test 1024 samples</text>
<path d="M125.1 348.7H152" stroke="#007f00" stroke-width="3" stroke-dasharray="3 3" fill="none"/>
<circle cx="140.1" cy="348.7" r="4.2" fill="#007f00"/>
<text x="157.6" y="353.81" font-size="14.2" letter-spacing="0.1">SW test 1024 samples</text>
<path d="M125.1 367H152" stroke="#ff0000" stroke-width="3" stroke-dasharray="3 3" fill="none"/>
<polygon points="140.1,361.58 134.6,371.26 145.6,371.26" fill="#ff0000"/>
<text x="157.6" y="372.11" font-size="14.2" letter-spacing="0.1">L test 1024 samples</text>
<path d="M125.1 385.2H152" stroke="#58dc00" stroke-width="3" stroke-dasharray="3 3" fill="none"/>
<polygon points="146.16,385.2 135.72,379.2 135.72,391.2" fill="#58dc00"/>
<text x="157.6" y="390.31" font-size="14.2" letter-spacing="0.1">CM test 1024 samples</text>
<path d="M125.1 403.5H152" stroke="#000" stroke-width="3" stroke-dasharray="3 3" fill="none"/>
<polygon points="140.1,398.1 143.12,403.5 140.1,408.9 137.08,403.5" fill="#000" stroke="#000" stroke-width="0.6" stroke-linejoin="round"/>
<text x="157.6" y="408.61" font-size="14.2" letter-spacing="0.1">K test 1024 samples</text>
<rect x="306.5" y="283.9" width="195" height="131.1" fill="#fff" stroke="#3a3a3a" stroke-width="1"/>
<path d="M312 294.1H341.3" stroke="#0000ff" stroke-width="1.4" fill="none"/>
<rect x="323.05" y="290.45" width="7.3" height="7.3" fill="#0000ff"/>
<text x="344.5" y="299.21" font-size="14.2" letter-spacing="0.1">AD test 16384 samples</text>
<path d="M312 312.4H341.3" stroke="#007f00" stroke-width="1.4" fill="none"/>
<circle cx="326.7" cy="312.4" r="3.3" fill="#007f00"/>
<text x="344.5" y="317.51" font-size="14.2" letter-spacing="0.1">SW test 16384 samples</text>
<path d="M312 330.7H341.3" stroke="#ff0000" stroke-width="1.4" fill="none"/>
<polygon points="326.7,326.86 322.8,333.72 330.6,333.72" fill="#ff0000"/>
<text x="344.5" y="335.81" font-size="14.2" letter-spacing="0.1">L test 16384 samples</text>
<path d="M312 349H341.3" stroke="#58dc00" stroke-width="2.6" stroke-dasharray="2.6 3.4" fill="none"/>
<polygon points="332.65,349 322.39,343.1 322.39,354.9" fill="#58dc00"/>
<text x="344.5" y="354.11" font-size="14.2" letter-spacing="0.1">CM test 16384 samples</text>
<path d="M312 367.2H341.3" stroke="#deb887" stroke-width="2.4" stroke-dasharray="2.4 3.4" fill="none"/>
<path d="M323.9 364.4L329.5 370M323.9 370L329.5 364.4" stroke="#deb887" stroke-width="2.2" fill="none"/>
<text x="344.5" y="372.31" font-size="14.2" letter-spacing="0.1">JB test 16384 samples</text>
<path d="M312 385.6H341.3" stroke="#bf00bf" stroke-width="1.4" fill="none"/>
<path d="M321.9 385.6H331.5M326.7 380.8V390.4" stroke="#bf00bf" stroke-width="1.6" fill="none"/>
<text x="344.5" y="390.71" font-size="14.2" letter-spacing="0.1">K2 test 16384 samples</text>
<path d="M312 403.9H341.3" stroke="#1a1a1a" stroke-width="1.2" fill="none"/>
<polygon points="326.7,399.6 329.11,403.9 326.7,408.2 324.29,403.9" fill="#1a1a1a" stroke="#1a1a1a" stroke-width="0.6" stroke-linejoin="round"/>
<text x="344.5" y="409.01" font-size="14.2" letter-spacing="0.1">K test 16384 samples</text>
</g>
<g id="pb">
<path d="M659.3 38.5V415.3M748.1 38.5V415.3M836.9 38.5V415.3M925.7 38.5V415.3M570.5 367.59H1014.5M570.5 320.58H1014.5M570.5 273.56H1014.5M570.5 226.55H1014.5M570.5 179.54H1014.5M570.5 132.52H1014.5M570.5 85.51H1014.5" stroke="#000" stroke-width="1" stroke-dasharray="2.3 2.25" fill="none"/>
<path d="M592.7 377.93 L614.9 333.97 L637.1 306 L659.3 282.02 L681.5 261.1 L703.7 238.3 L725.9 217.15 L748.1 192.7 L770.3 165.9 L792.5 136.05 L814.7 110.19 L820.25 106.2 L825.8 105.02 L831.35 105.73 L836.9 107.84 L859.1 138.17 L881.3 165.43 L903.5 181.42 L925.7 193.17 L947.9 202.1 L970.1 208.45 L992.3 213.62 L1014.5 217.62" fill="none" stroke="#0000ff" stroke-width="1.4" clip-path="url(#clip1)"/>
<rect x="589.05" y="374.28" width="7.3" height="7.3" fill="#0000ff"/>
<rect x="611.25" y="330.32" width="7.3" height="7.3" fill="#0000ff"/>
<rect x="633.45" y="302.35" width="7.3" height="7.3" fill="#0000ff"/>
<rect x="655.65" y="278.37" width="7.3" height="7.3" fill="#0000ff"/>
<rect x="677.85" y="257.45" width="7.3" height="7.3" fill="#0000ff"/>
<rect x="700.05" y="234.65" width="7.3" height="7.3" fill="#0000ff"/>
<rect x="722.25" y="213.5" width="7.3" height="7.3" fill="#0000ff"/>
<rect x="744.45" y="189.05" width="7.3" height="7.3" fill="#0000ff"/>
<rect x="766.65" y="162.25" width="7.3" height="7.3" fill="#0000ff"/>
<rect x="788.85" y="132.4" width="7.3" height="7.3" fill="#0000ff"/>
<rect x="811.05" y="106.54" width="7.3" height="7.3" fill="#0000ff"/>
<rect x="816.6" y="102.55" width="7.3" height="7.3" fill="#0000ff"/>
<rect x="822.15" y="101.37" width="7.3" height="7.3" fill="#0000ff"/>
<rect x="827.7" y="102.08" width="7.3" height="7.3" fill="#0000ff"/>
<rect x="833.25" y="104.19" width="7.3" height="7.3" fill="#0000ff"/>
<rect x="855.45" y="134.52" width="7.3" height="7.3" fill="#0000ff"/>
<rect x="877.65" y="161.78" width="7.3" height="7.3" fill="#0000ff"/>
<rect x="899.85" y="177.77" width="7.3" height="7.3" fill="#0000ff"/>
<rect x="922.05" y="189.52" width="7.3" height="7.3" fill="#0000ff"/>
<rect x="944.25" y="198.45" width="7.3" height="7.3" fill="#0000ff"/>
<rect x="966.45" y="204.8" width="7.3" height="7.3" fill="#0000ff"/>
<rect x="988.65" y="209.97" width="7.3" height="7.3" fill="#0000ff"/>
<rect x="1010.85" y="213.97" width="7.3" height="7.3" fill="#0000ff"/>
<path d="M592.7 371.82 L614.9 324.1 L637.1 292.84 L659.3 266.51 L681.5 241.12 L703.7 216.68 L725.9 190.35 L748.1 160.73 L770.3 132.52 L792.5 108.31 L798.05 103.85 L803.6 100.32 L809.15 97.74 L814.7 96.09 L820.25 95.62 L825.8 96.33 L831.35 99.15 L836.9 102.2 L859.1 123.83 L881.3 143.1 L903.5 157.68 L925.7 168.49 L947.9 176.72 L970.1 183.06 L992.3 188.94 L1014.5 193.64" fill="none" stroke="#007f00" stroke-width="1.4" clip-path="url(#clip1)"/>
<circle cx="592.7" cy="371.82" r="3.3" fill="#007f00"/>
<circle cx="614.9" cy="324.1" r="3.3" fill="#007f00"/>
<circle cx="637.1" cy="292.84" r="3.3" fill="#007f00"/>
<circle cx="659.3" cy="266.51" r="3.3" fill="#007f00"/>
<circle cx="681.5" cy="241.12" r="3.3" fill="#007f00"/>
<circle cx="703.7" cy="216.68" r="3.3" fill="#007f00"/>
<circle cx="725.9" cy="190.35" r="3.3" fill="#007f00"/>
<circle cx="748.1" cy="160.73" r="3.3" fill="#007f00"/>
<circle cx="770.3" cy="132.52" r="3.3" fill="#007f00"/>
<circle cx="792.5" cy="108.31" r="3.3" fill="#007f00"/>
<circle cx="798.05" cy="103.85" r="3.3" fill="#007f00"/>
<circle cx="803.6" cy="100.32" r="3.3" fill="#007f00"/>
<circle cx="809.15" cy="97.74" r="3.3" fill="#007f00"/>
<circle cx="814.7" cy="96.09" r="3.3" fill="#007f00"/>
<circle cx="820.25" cy="95.62" r="3.3" fill="#007f00"/>
<circle cx="825.8" cy="96.33" r="3.3" fill="#007f00"/>
<circle cx="831.35" cy="99.15" r="3.3" fill="#007f00"/>
<circle cx="836.9" cy="102.2" r="3.3" fill="#007f00"/>
<circle cx="859.1" cy="123.83" r="3.3" fill="#007f00"/>
<circle cx="881.3" cy="143.1" r="3.3" fill="#007f00"/>
<circle cx="903.5" cy="157.68" r="3.3" fill="#007f00"/>
<circle cx="925.7" cy="168.49" r="3.3" fill="#007f00"/>
<circle cx="947.9" cy="176.72" r="3.3" fill="#007f00"/>
<circle cx="970.1" cy="183.06" r="3.3" fill="#007f00"/>
<circle cx="992.3" cy="188.94" r="3.3" fill="#007f00"/>
<circle cx="1014.5" cy="193.64" r="3.3" fill="#007f00"/>
<path d="M592.7 359.6 L614.9 315.87 L637.1 289.31 L659.3 266.98 L681.5 245.36 L703.7 226.55 L725.9 203.98 L748.1 182.59 L770.3 155.33 L792.5 124.77 L814.7 94.44 L820.25 86.22 L825.8 80.81 L831.35 78.7 L836.9 77.76 L842.45 81.52 L848 85.98 L853.55 91.86 L859.1 100.09 L881.3 138.17 L903.5 160.73 L925.7 174.84 L947.9 184.94 L970.1 191.76 L992.3 197.64 L1014.5 202.1" fill="none" stroke="#ff0000" stroke-width="1.4" clip-path="url(#clip1)"/>
<polygon points="592.7,355.75 588.8,362.62 596.6,362.62" fill="#ff0000"/>
<polygon points="614.9,312.03 611,318.89 618.8,318.89" fill="#ff0000"/>
<polygon points="637.1,285.47 633.2,292.33 641,292.33" fill="#ff0000"/>
<polygon points="659.3,263.14 655.4,270 663.2,270" fill="#ff0000"/>
<polygon points="681.5,241.51 677.6,248.38 685.4,248.38" fill="#ff0000"/>
<polygon points="703.7,222.71 699.8,229.57 707.6,229.57" fill="#ff0000"/>
<polygon points="725.9,200.14 722,207 729.8,207" fill="#ff0000"/>
<polygon points="748.1,178.75 744.2,185.61 752,185.61" fill="#ff0000"/>
<polygon points="770.3,151.48 766.4,158.35 774.2,158.35" fill="#ff0000"/>
<polygon points="792.5,120.92 788.6,127.79 796.4,127.79" fill="#ff0000"/>
<polygon points="814.7,90.6 810.8,97.47 818.6,97.47" fill="#ff0000"/>
<polygon points="820.25,82.37 816.35,89.24 824.15,89.24" fill="#ff0000"/>
<polygon points="825.8,76.97 821.9,83.83 829.7,83.83" fill="#ff0000"/>
<polygon points="831.35,74.85 827.45,81.72 835.25,81.72" fill="#ff0000"/>
<polygon points="836.9,73.91 833,80.78 840.8,80.78" fill="#ff0000"/>
<polygon points="842.45,77.67 838.55,84.54 846.35,84.54" fill="#ff0000"/>
<polygon points="848,82.14 844.1,89 851.9,89" fill="#ff0000"/>
<polygon points="853.55,88.02 849.65,94.88 857.45,94.88" fill="#ff0000"/>
<polygon points="859.1,96.24 855.2,103.11 863,103.11" fill="#ff0000"/>
<polygon points="881.3,134.32 877.4,141.19 885.2,141.19" fill="#ff0000"/>
<polygon points="903.5,156.89 899.6,163.75 907.4,163.75" fill="#ff0000"/>
<polygon points="925.7,170.99 921.8,177.86 929.6,177.86" fill="#ff0000"/>
<polygon points="947.9,181.1 944,187.96 951.8,187.96" fill="#ff0000"/>
<polygon points="970.1,187.92 966.2,194.78 974,194.78" fill="#ff0000"/>
<polygon points="992.3,193.79 988.4,200.66 996.2,200.66" fill="#ff0000"/>
<polygon points="1014.5,198.26 1010.6,205.12 1018.4,205.12" fill="#ff0000"/>
<path d="M592.7 363.83 L614.9 325.98 L637.1 299.65 L659.3 276.15 L681.5 255.7 L703.7 233.37 L725.9 212.45 L748.1 189.88 L770.3 162.61 L792.5 130.88 L814.7 100.32 L820.25 89.04 L825.8 87.63 L831.35 85.98 L836.9 84.57 L842.45 90.68 L848 96.56 L853.55 106.67 L859.1 121.48 L881.3 157.91 L903.5 174.84 L925.7 187.76 L947.9 197.17 L970.1 203.28 L992.3 208.92 L1014.5 213.15" fill="none" stroke="#58dc00" stroke-width="2.6" stroke-dasharray="2.6 3.4" clip-path="url(#clip1)"/>
<polygon points="598.65,363.83 588.39,357.93 588.39,369.73" fill="#58dc00"/>
<polygon points="620.85,325.98 610.59,320.08 610.59,331.88" fill="#58dc00"/>
<polygon points="643.05,299.65 632.79,293.75 632.79,305.55" fill="#58dc00"/>
<polygon points="665.25,276.15 654.99,270.25 654.99,282.05" fill="#58dc00"/>
<polygon points="687.45,255.7 677.19,249.8 677.19,261.6" fill="#58dc00"/>
<polygon points="709.65,233.37 699.39,227.47 699.39,239.27" fill="#58dc00"/>
<polygon points="731.85,212.45 721.59,206.55 721.59,218.35" fill="#58dc00"/>
<polygon points="754.05,189.88 743.79,183.98 743.79,195.78" fill="#58dc00"/>
<polygon points="776.25,162.61 765.99,156.71 765.99,168.51" fill="#58dc00"/>
<polygon points="798.45,130.88 788.19,124.98 788.19,136.78" fill="#58dc00"/>
<polygon points="820.65,100.32 810.39,94.42 810.39,106.22" fill="#58dc00"/>
<polygon points="826.2,89.04 815.94,83.14 815.94,94.94" fill="#58dc00"/>
<polygon points="831.75,87.63 821.49,81.73 821.49,93.53" fill="#58dc00"/>
<polygon points="837.3,85.98 827.04,80.08 827.04,91.88" fill="#58dc00"/>
<polygon points="842.85,84.57 832.59,78.67 832.59,90.47" fill="#58dc00"/>
<polygon points="848.4,90.68 838.14,84.78 838.14,96.58" fill="#58dc00"/>
<polygon points="853.95,96.56 843.69,90.66 843.69,102.46" fill="#58dc00"/>
<polygon points="859.5,106.67 849.24,100.77 849.24,112.57" fill="#58dc00"/>
<polygon points="865.05,121.48 854.79,115.58 854.79,127.38" fill="#58dc00"/>
<polygon points="887.25,157.91 876.99,152.01 876.99,163.81" fill="#58dc00"/>
<polygon points="909.45,174.84 899.19,168.94 899.19,180.74" fill="#58dc00"/>
<polygon points="931.65,187.76 921.39,181.86 921.39,193.66" fill="#58dc00"/>
<polygon points="953.85,197.17 943.59,191.27 943.59,203.07" fill="#58dc00"/>
<polygon points="976.05,203.28 965.79,197.38 965.79,209.18" fill="#58dc00"/>
<polygon points="998.25,208.92 987.99,203.02 987.99,214.82" fill="#58dc00"/>
<polygon points="1020.45,213.15 1010.19,207.25 1010.19,219.05" fill="#58dc00"/>
<path d="M592.7 406.61 L614.9 357.24 L637.1 322.22 L659.3 294.72 L681.5 271.21 L703.7 243.47 L725.9 213.39 L748.1 169.66 L756.98 147.1 L765.86 113.25 L770.3 91.15 L774.74 57.31 L779.18 5.59" fill="none" stroke="#deb887" stroke-width="2.4" stroke-dasharray="2.4 3.4" clip-path="url(#clip1)"/>
<path d="M805.82 24.4 L810.26 52.6 L814.7 78.93 L819.14 98.21 L828.02 123.12 L836.9 143.34 L859.1 171.55 L881.3 188.47 L903.5 199.75 L925.7 208.92 L947.9 215.97 L970.1 221.38 L992.3 226.31 L1014.5 229.37" fill="none" stroke="#deb887" stroke-width="2.4" stroke-dasharray="2.4 3.4" clip-path="url(#clip1)"/>
<path d="M589.9 403.81L595.5 409.41M589.9 409.41L595.5 403.81" stroke="#deb887" stroke-width="2.2" fill="none"/>
<path d="M612.1 354.44L617.7 360.04M612.1 360.04L617.7 354.44" stroke="#deb887" stroke-width="2.2" fill="none"/>
<path d="M634.3 319.42L639.9 325.02M634.3 325.02L639.9 319.42" stroke="#deb887" stroke-width="2.2" fill="none"/>
<path d="M656.5 291.92L662.1 297.52M656.5 297.52L662.1 291.92" stroke="#deb887" stroke-width="2.2" fill="none"/>
<path d="M678.7 268.41L684.3 274.01M678.7 274.01L684.3 268.41" stroke="#deb887" stroke-width="2.2" fill="none"/>
<path d="M700.9 240.67L706.5 246.27M700.9 246.27L706.5 240.67" stroke="#deb887" stroke-width="2.2" fill="none"/>
<path d="M723.1 210.59L728.7 216.19M723.1 216.19L728.7 210.59" stroke="#deb887" stroke-width="2.2" fill="none"/>
<path d="M745.3 166.86L750.9 172.46M745.3 172.46L750.9 166.86" stroke="#deb887" stroke-width="2.2" fill="none"/>
<path d="M754.18 144.3L759.78 149.9M754.18 149.9L759.78 144.3" stroke="#deb887" stroke-width="2.2" fill="none"/>
<path d="M763.06 110.45L768.66 116.05M763.06 116.05L768.66 110.45" stroke="#deb887" stroke-width="2.2" fill="none"/>
<path d="M767.5 88.35L773.1 93.95M767.5 93.95L773.1 88.35" stroke="#deb887" stroke-width="2.2" fill="none"/>
<path d="M771.94 54.51L777.54 60.11M771.94 60.11L777.54 54.51" stroke="#deb887" stroke-width="2.2" fill="none"/>
<path d="M807.46 49.8L813.06 55.4M807.46 55.4L813.06 49.8" stroke="#deb887" stroke-width="2.2" fill="none"/>
<path d="M811.9 76.13L817.5 81.73M811.9 81.73L817.5 76.13" stroke="#deb887" stroke-width="2.2" fill="none"/>
<path d="M816.34 95.41L821.94 101.01M816.34 101.01L821.94 95.41" stroke="#deb887" stroke-width="2.2" fill="none"/>
<path d="M825.22 120.32L830.82 125.92M825.22 125.92L830.82 120.32" stroke="#deb887" stroke-width="2.2" fill="none"/>
<path d="M834.1 140.54L839.7 146.14M834.1 146.14L839.7 140.54" stroke="#deb887" stroke-width="2.2" fill="none"/>
<path d="M856.3 168.75L861.9 174.35M856.3 174.35L861.9 168.75" stroke="#deb887" stroke-width="2.2" fill="none"/>
<path d="M878.5 185.67L884.1 191.27M878.5 191.27L884.1 185.67" stroke="#deb887" stroke-width="2.2" fill="none"/>
<path d="M900.7 196.95L906.3 202.55M900.7 202.55L906.3 196.95" stroke="#deb887" stroke-width="2.2" fill="none"/>
<path d="M922.9 206.12L928.5 211.72M922.9 211.72L928.5 206.12" stroke="#deb887" stroke-width="2.2" fill="none"/>
<path d="M945.1 213.17L950.7 218.77M945.1 218.77L950.7 213.17" stroke="#deb887" stroke-width="2.2" fill="none"/>
<path d="M967.3 218.58L972.9 224.18M967.3 224.18L972.9 218.58" stroke="#deb887" stroke-width="2.2" fill="none"/>
<path d="M989.5 223.51L995.1 229.11M989.5 229.11L995.1 223.51" stroke="#deb887" stroke-width="2.2" fill="none"/>
<path d="M1011.7 226.57L1017.3 232.17M1011.7 232.17L1017.3 226.57" stroke="#deb887" stroke-width="2.2" fill="none"/>
<path d="M592.7 405.2 L614.9 355.83 L637.1 320.58 L659.3 293.07 L681.5 269.33 L703.7 241.59 L725.9 211.27 L748.1 167.08 L756.98 144.98 L765.86 111.37 L770.3 89.27 L774.74 55.19 L779.18 3.24" fill="none" stroke="#bf00bf" stroke-width="1.4" clip-path="url(#clip1)"/>
<path d="M805.82 22.05 L810.26 50.25 L814.7 76.82 L819.14 96.33 L828.02 121.24 L836.9 140.99 L859.1 168.96 L881.3 185.88 L903.5 197.17 L925.7 206.57 L947.9 213.62 L970.1 219.03 L992.3 224.2 L1014.5 227.49" fill="none" stroke="#bf00bf" stroke-width="1.4" clip-path="url(#clip1)"/>
<path d="M587.9 405.2H597.5M592.7 400.4V410" stroke="#bf00bf" stroke-width="1.6" fill="none"/>
<path d="M610.1 355.83H619.7M614.9 351.03V360.63" stroke="#bf00bf" stroke-width="1.6" fill="none"/>
<path d="M632.3 320.58H641.9M637.1 315.78V325.38" stroke="#bf00bf" stroke-width="1.6" fill="none"/>
<path d="M654.5 293.07H664.1M659.3 288.27V297.87" stroke="#bf00bf" stroke-width="1.6" fill="none"/>
<path d="M676.7 269.33H686.3M681.5 264.53V274.13" stroke="#bf00bf" stroke-width="1.6" fill="none"/>
<path d="M698.9 241.59H708.5M703.7 236.79V246.39" stroke="#bf00bf" stroke-width="1.6" fill="none"/>
<path d="M721.1 211.27H730.7M725.9 206.47V216.07" stroke="#bf00bf" stroke-width="1.6" fill="none"/>
<path d="M743.3 167.08H752.9M748.1 162.28V171.88" stroke="#bf00bf" stroke-width="1.6" fill="none"/>
<path d="M752.18 144.98H761.78M756.98 140.18V149.78" stroke="#bf00bf" stroke-width="1.6" fill="none"/>
<path d="M761.06 111.37H770.66M765.86 106.57V116.17" stroke="#bf00bf" stroke-width="1.6" fill="none"/>
<path d="M765.5 89.27H775.1M770.3 84.47V94.07" stroke="#bf00bf" stroke-width="1.6" fill="none"/>
<path d="M769.94 55.19H779.54M774.74 50.39V59.99" stroke="#bf00bf" stroke-width="1.6" fill="none"/>
<path d="M805.46 50.25H815.06M810.26 45.45V55.05" stroke="#bf00bf" stroke-width="1.6" fill="none"/>
<path d="M809.9 76.82H819.5M814.7 72.02V81.62" stroke="#bf00bf" stroke-width="1.6" fill="none"/>
<path d="M814.34 96.33H823.94M819.14 91.53V101.13" stroke="#bf00bf" stroke-width="1.6" fill="none"/>
<path d="M823.22 121.24H832.82M828.02 116.44V126.04" stroke="#bf00bf" stroke-width="1.6" fill="none"/>
<path d="M832.1 140.99H841.7M836.9 136.19V145.79" stroke="#bf00bf" stroke-width="1.6" fill="none"/>
<path d="M854.3 168.96H863.9M859.1 164.16V173.76" stroke="#bf00bf" stroke-width="1.6" fill="none"/>
<path d="M876.5 185.88H886.1M881.3 181.08V190.68" stroke="#bf00bf" stroke-width="1.6" fill="none"/>
<path d="M898.7 197.17H908.3M903.5 192.37V201.97" stroke="#bf00bf" stroke-width="1.6" fill="none"/>
<path d="M920.9 206.57H930.5M925.7 201.77V211.37" stroke="#bf00bf" stroke-width="1.6" fill="none"/>
<path d="M943.1 213.62H952.7M947.9 208.82V218.42" stroke="#bf00bf" stroke-width="1.6" fill="none"/>
<path d="M965.3 219.03H974.9M970.1 214.23V223.83" stroke="#bf00bf" stroke-width="1.6" fill="none"/>
<path d="M987.5 224.2H997.1M992.3 219.4V229" stroke="#bf00bf" stroke-width="1.6" fill="none"/>
<path d="M1009.7 227.49H1019.3M1014.5 222.69V232.29" stroke="#bf00bf" stroke-width="1.6" fill="none"/>
<path d="M592.7 408.72 L614.9 358.42 L637.1 325.28 L659.3 300.12 L681.5 276.15 L703.7 249.35 L725.9 219.73 L748.1 180.01 L756.98 154.39 L765.86 123.12 L770.3 104.32 L774.74 72.58 L779.18 24.4" fill="none" stroke="#1a1a1a" stroke-width="1.2" clip-path="url(#clip1)"/>
<path d="M801.38 -13.21 L805.82 38.97 L810.26 73.52 L814.7 95.39 L819.14 112.78 L828.02 136.52 L836.9 153.21 L859.1 180.48 L881.3 197.17 L903.5 208.45 L925.7 217.15 L947.9 223.49 L970.1 228.9 L992.3 232.9 L1014.5 236.19" fill="none" stroke="#1a1a1a" stroke-width="1.2" clip-path="url(#clip1)"/>
<polygon points="592.7,404.42 595.11,408.72 592.7,413.02 590.29,408.72" fill="#1a1a1a" stroke="#1a1a1a" stroke-width="0.6" stroke-linejoin="round"/>
<polygon points="614.9,354.12 617.31,358.42 614.9,362.72 612.49,358.42" fill="#1a1a1a" stroke="#1a1a1a" stroke-width="0.6" stroke-linejoin="round"/>
<polygon points="637.1,320.98 639.51,325.28 637.1,329.58 634.69,325.28" fill="#1a1a1a" stroke="#1a1a1a" stroke-width="0.6" stroke-linejoin="round"/>
<polygon points="659.3,295.82 661.71,300.12 659.3,304.42 656.89,300.12" fill="#1a1a1a" stroke="#1a1a1a" stroke-width="0.6" stroke-linejoin="round"/>
<polygon points="681.5,271.85 683.91,276.15 681.5,280.45 679.09,276.15" fill="#1a1a1a" stroke="#1a1a1a" stroke-width="0.6" stroke-linejoin="round"/>
<polygon points="703.7,245.05 706.11,249.35 703.7,253.65 701.29,249.35" fill="#1a1a1a" stroke="#1a1a1a" stroke-width="0.6" stroke-linejoin="round"/>
<polygon points="725.9,215.43 728.31,219.73 725.9,224.03 723.49,219.73" fill="#1a1a1a" stroke="#1a1a1a" stroke-width="0.6" stroke-linejoin="round"/>
<polygon points="748.1,175.71 750.51,180.01 748.1,184.31 745.69,180.01" fill="#1a1a1a" stroke="#1a1a1a" stroke-width="0.6" stroke-linejoin="round"/>
<polygon points="756.98,150.09 759.39,154.39 756.98,158.69 754.57,154.39" fill="#1a1a1a" stroke="#1a1a1a" stroke-width="0.6" stroke-linejoin="round"/>
<polygon points="765.86,118.82 768.27,123.12 765.86,127.42 763.45,123.12" fill="#1a1a1a" stroke="#1a1a1a" stroke-width="0.6" stroke-linejoin="round"/>
<polygon points="770.3,100.02 772.71,104.32 770.3,108.62 767.89,104.32" fill="#1a1a1a" stroke="#1a1a1a" stroke-width="0.6" stroke-linejoin="round"/>
<polygon points="774.74,68.28 777.15,72.58 774.74,76.88 772.33,72.58" fill="#1a1a1a" stroke="#1a1a1a" stroke-width="0.6" stroke-linejoin="round"/>
<polygon points="805.82,34.67 808.23,38.97 805.82,43.27 803.41,38.97" fill="#1a1a1a" stroke="#1a1a1a" stroke-width="0.6" stroke-linejoin="round"/>
<polygon points="810.26,69.22 812.67,73.52 810.26,77.82 807.85,73.52" fill="#1a1a1a" stroke="#1a1a1a" stroke-width="0.6" stroke-linejoin="round"/>
<polygon points="814.7,91.09 817.11,95.39 814.7,99.69 812.29,95.39" fill="#1a1a1a" stroke="#1a1a1a" stroke-width="0.6" stroke-linejoin="round"/>
<polygon points="819.14,108.48 821.55,112.78 819.14,117.08 816.73,112.78" fill="#1a1a1a" stroke="#1a1a1a" stroke-width="0.6" stroke-linejoin="round"/>
<polygon points="828.02,132.22 830.43,136.52 828.02,140.82 825.61,136.52" fill="#1a1a1a" stroke="#1a1a1a" stroke-width="0.6" stroke-linejoin="round"/>
<polygon points="836.9,148.91 839.31,153.21 836.9,157.51 834.49,153.21" fill="#1a1a1a" stroke="#1a1a1a" stroke-width="0.6" stroke-linejoin="round"/>
<polygon points="859.1,176.18 861.51,180.48 859.1,184.78 856.69,180.48" fill="#1a1a1a" stroke="#1a1a1a" stroke-width="0.6" stroke-linejoin="round"/>
<polygon points="881.3,192.87 883.71,197.17 881.3,201.47 878.89,197.17" fill="#1a1a1a" stroke="#1a1a1a" stroke-width="0.6" stroke-linejoin="round"/>
<polygon points="903.5,204.15 905.91,208.45 903.5,212.75 901.09,208.45" fill="#1a1a1a" stroke="#1a1a1a" stroke-width="0.6" stroke-linejoin="round"/>
<polygon points="925.7,212.85 928.11,217.15 925.7,221.45 923.29,217.15" fill="#1a1a1a" stroke="#1a1a1a" stroke-width="0.6" stroke-linejoin="round"/>
<polygon points="947.9,219.19 950.31,223.49 947.9,227.79 945.49,223.49" fill="#1a1a1a" stroke="#1a1a1a" stroke-width="0.6" stroke-linejoin="round"/>
<polygon points="970.1,224.6 972.51,228.9 970.1,233.2 967.69,228.9" fill="#1a1a1a" stroke="#1a1a1a" stroke-width="0.6" stroke-linejoin="round"/>
<polygon points="992.3,228.6 994.71,232.9 992.3,237.2 989.89,232.9" fill="#1a1a1a" stroke="#1a1a1a" stroke-width="0.6" stroke-linejoin="round"/>
<polygon points="1014.5,231.89 1016.91,236.19 1014.5,240.49 1012.09,236.19" fill="#1a1a1a" stroke="#1a1a1a" stroke-width="0.6" stroke-linejoin="round"/>
<rect x="570.5" y="38.5" width="444" height="376.8" fill="none" stroke="#3a3a3a" stroke-width="1"/>
<path d="M659.3 415.3v-5.5M659.3 38.5v5.5M748.1 415.3v-5.5M748.1 38.5v5.5M836.9 415.3v-5.5M836.9 38.5v5.5M925.7 415.3v-5.5M925.7 38.5v5.5M570.5 367.59h5.5M1014.5 367.59h-5.5M570.5 320.58h5.5M1014.5 320.58h-5.5M570.5 273.56h5.5M1014.5 273.56h-5.5M570.5 226.55h5.5M1014.5 226.55h-5.5M570.5 179.54h5.5M1014.5 179.54h-5.5M570.5 132.52h5.5M1014.5 132.52h-5.5M570.5 85.51h5.5M1014.5 85.51h-5.5" stroke="#3a3a3a" stroke-width="1" fill="none"/>
<text x="570.5" y="430.3" font-size="14.4" text-anchor="middle">0</text>
<text x="659.3" y="430.3" font-size="14.4" text-anchor="middle">0.2</text>
<text x="748.1" y="430.3" font-size="14.4" text-anchor="middle">0.4</text>
<text x="836.9" y="430.3" font-size="14.4" text-anchor="middle">0.6</text>
<text x="925.7" y="430.3" font-size="14.4" text-anchor="middle">0.8</text>
<text x="1014.5" y="430.3" font-size="14.4" text-anchor="middle">1</text>
<text x="567.1" y="419.6" font-size="14.4" text-anchor="end">-12</text>
<text x="567.1" y="372.59" font-size="14.4" text-anchor="end">-10</text>
<text x="567.1" y="325.58" font-size="14.4" text-anchor="end">-8</text>
<text x="567.1" y="278.56" font-size="14.4" text-anchor="end">-6</text>
<text x="567.1" y="231.55" font-size="14.4" text-anchor="end">-4</text>
<text x="567.1" y="184.54" font-size="14.4" text-anchor="end">-2</text>
<text x="567.1" y="137.52" font-size="14.4" text-anchor="end">0</text>
<text x="567.1" y="90.51" font-size="14.4" text-anchor="end">2</text>
<text x="567.1" y="43.5" font-size="14.4" text-anchor="end">4</text>
<text x="791.5" y="447.4" font-size="15.4" letter-spacing="0.22" text-anchor="middle">Duty Cycle</text>
<text transform="translate(537.8 227.05) rotate(-90)" font-size="15.4" letter-spacing="0.3" text-anchor="middle">Interference to Noise Ratio (dB)</text>
<text x="773" y="22.7" font-size="24.4" text-anchor="middle" style="stroke:none" font-family="'Liberation Serif', serif">(b)</text>
<rect x="820.5" y="264.5" width="194" height="150.8" fill="#fff" stroke="#3a3a3a" stroke-width="1"/>
<path d="M826 276H855.3" stroke="#0000ff" stroke-width="1.4" fill="none"/>
<rect x="837.05" y="272.35" width="7.3" height="7.3" fill="#0000ff"/>
<text x="858.3" y="281.11" font-size="14.2" letter-spacing="0.1">AD test 16384 samples</text>
<path d="M826 297.1H855.3" stroke="#007f00" stroke-width="1.4" fill="none"/>
<circle cx="840.7" cy="297.1" r="3.3" fill="#007f00"/>
<text x="858.3" y="302.21" font-size="14.2" letter-spacing="0.1">SW test 16384 samples</text>
<path d="M826 318.1H855.3" stroke="#ff0000" stroke-width="1.4" fill="none"/>
<polygon points="840.7,314.26 836.8,321.12 844.6,321.12" fill="#ff0000"/>
<text x="858.3" y="323.21" font-size="14.2" letter-spacing="0.1">L test 16384 samples</text>
<path d="M826 339.2H855.3" stroke="#58dc00" stroke-width="2.6" stroke-dasharray="2.6 3.4" fill="none"/>
<polygon points="846.65,339.2 836.39,333.3 836.39,345.1" fill="#58dc00"/>
<text x="858.3" y="344.31" font-size="14.2" letter-spacing="0.1">CM test 16384 samples</text>
<path d="M826 360.3H855.3" stroke="#deb887" stroke-width="2.4" stroke-dasharray="2.4 3.4" fill="none"/>
<path d="M837.9 357.5L843.5 363.1M837.9 363.1L843.5 357.5" stroke="#deb887" stroke-width="2.2" fill="none"/>
<text x="858.3" y="365.41" font-size="14.2" letter-spacing="0.1">JB test 16384 samples</text>
<path d="M826 381.3H855.3" stroke="#bf00bf" stroke-width="1.4" fill="none"/>
<path d="M835.9 381.3H845.5M840.7 376.5V386.1" stroke="#bf00bf" stroke-width="1.6" fill="none"/>
<text x="858.3" y="386.41" font-size="14.2" letter-spacing="0.1">K2 test 16384 samples</text>
<path d="M826 402H855.3" stroke="#1a1a1a" stroke-width="1.2" fill="none"/>
<polygon points="840.7,397.7 843.11,402 840.7,406.3 838.29,402" fill="#1a1a1a" stroke="#1a1a1a" stroke-width="0.6" stroke-linejoin="round"/>
<text x="858.3" y="407.11" font-size="14.2" letter-spacing="0.1">K test 16384 samples</text>
</g>
</svg>
</body></html>
